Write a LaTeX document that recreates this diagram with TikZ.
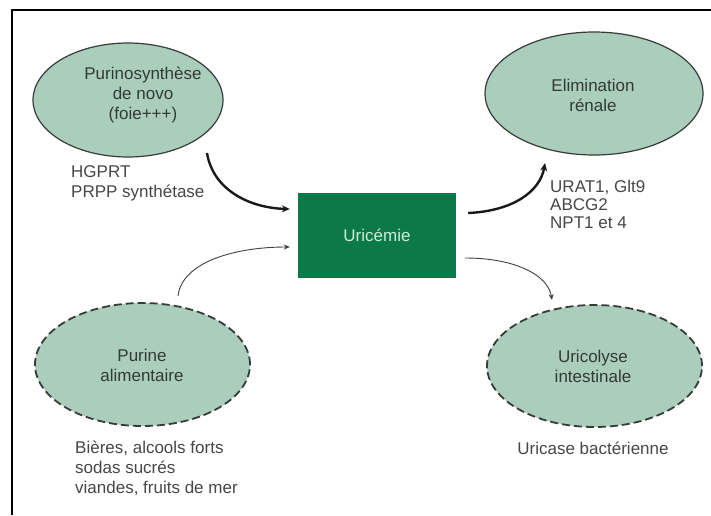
\documentclass[tikz,border=0pt]{standalone}
\usepackage{fontspec}
\setmainfont{Liberation Sans}
\usetikzlibrary{shapes.geometric,arrows.meta}
\definecolor{sage}{RGB}{170,206,187}
\definecolor{edgegray}{RGB}{55,60,58}
\definecolor{boxgreen}{RGB}{12,122,72}
\definecolor{boxtext}{RGB}{205,236,216}
\definecolor{labgray}{RGB}{70,72,72}
\definecolor{intext}{RGB}{50,58,55}
\tikzset{
  solidell/.style={ellipse, draw=edgegray, fill=sage, line width=1.2pt, inner sep=0pt},
  dashell/.style={ellipse, draw=edgegray, fill=sage, line width=1.8pt, dash pattern=on 8pt off 4pt, inner sep=0pt},
  intxt/.style={align=center, text=intext, inner sep=0pt, font={\fontsize{17}{20}\selectfont}},
  labtxt/.style={align=left, text=labgray, inner sep=0pt, font={\fontsize{17}{20}\selectfont}},
  bigarrow/.style={draw=black!90, line width=2.4pt, -{Stealth[length=8pt,width=7pt]}},
  smallarrow/.style={draw=black!75, line width=0.9pt, -{Stealth[length=6pt,width=5pt]}},
}
\begin{document}
\begin{tikzpicture}[x=1pt,y=-1pt]
\useasboundingbox (0,0) rectangle (711,515);
\fill[white] (0,0) rectangle (711,515);
% frame
\coordinate (fbl) at (12,515);
\coordinate (ftl) at (12,10);
\coordinate (ftr) at (711,10);
\draw[line width=2.2pt, black] (fbl) -- (ftl) -- (ftr);

% ellipses
\node[solidell, minimum width=190pt, minimum height=114pt] (pur) at (128,100) {};
\node[intxt] (purt) at (143,95) {Purinosynthèse\\de novo\\(foie+++)};
\node[solidell, minimum width=218pt, minimum height=123pt] (elim) at (594,93.5) {};
\node[intxt] (elimt) at (593,95) {Elimination\\rénale};
\node[dashell, minimum width=215pt, minimum height=123pt] (alim) at (142.5,364.5) {};
\node[intxt] (alimt) at (142,365) {Purine\\alimentaire};
\node[dashell, minimum width=215pt, minimum height=122pt] (coly) at (594.5,366) {};
\node[intxt] (colyt) at (593,366.5) {Uricolyse\\intestinale};

% central box
\node[fill=boxgreen, minimum width=158pt, minimum height=85pt, inner sep=0pt,
      text=boxtext, font={\fontsize{17}{20}\selectfont}] (box) at (377,235.5) {Uricémie};

% labels
\node[labtxt, anchor=west] (lab1) at (71,183) {HGPRT\\PRPP synthétase};
\node[labtxt, anchor=west, font={\fontsize{17}{18}\selectfont}] (lab2) at (550,204.5) {URAT1, Glt9\\ABCG2\\NPT1 et 4};
\node[labtxt, anchor=west] (lab3) at (75,468) {Bières, alcools forts\\sodas sucrés\\viandes, fruits de mer};
\node[labtxt, anchor=center] (lab4) at (593,448) {Uricase bactérienne};

% arrows
\draw[bigarrow] ([shift={(79,53)}]pur.center) .. controls +(6,37) and +(-40,-1) .. ([shift={(-8,-26.5)}]box.west);
\draw[smallarrow] ([shift={(35.5,-68.5)}]alim.center) .. controls +(4,-34) and +(-55,0) .. ([shift={(-8,11.5)}]box.west);
\draw[bigarrow] ([shift={(12,-22.5)}]box.east) .. controls +(44,-2) and +(-5,29) .. ([shift={(-49,69.5)}]elim.center);
\draw[smallarrow] ([shift={(9,22.5)}]box.east) .. controls +(50,0) and +(-4,-25) .. ([shift={(-42.5,-66)}]coly.center);
\end{tikzpicture}
\end{document}
